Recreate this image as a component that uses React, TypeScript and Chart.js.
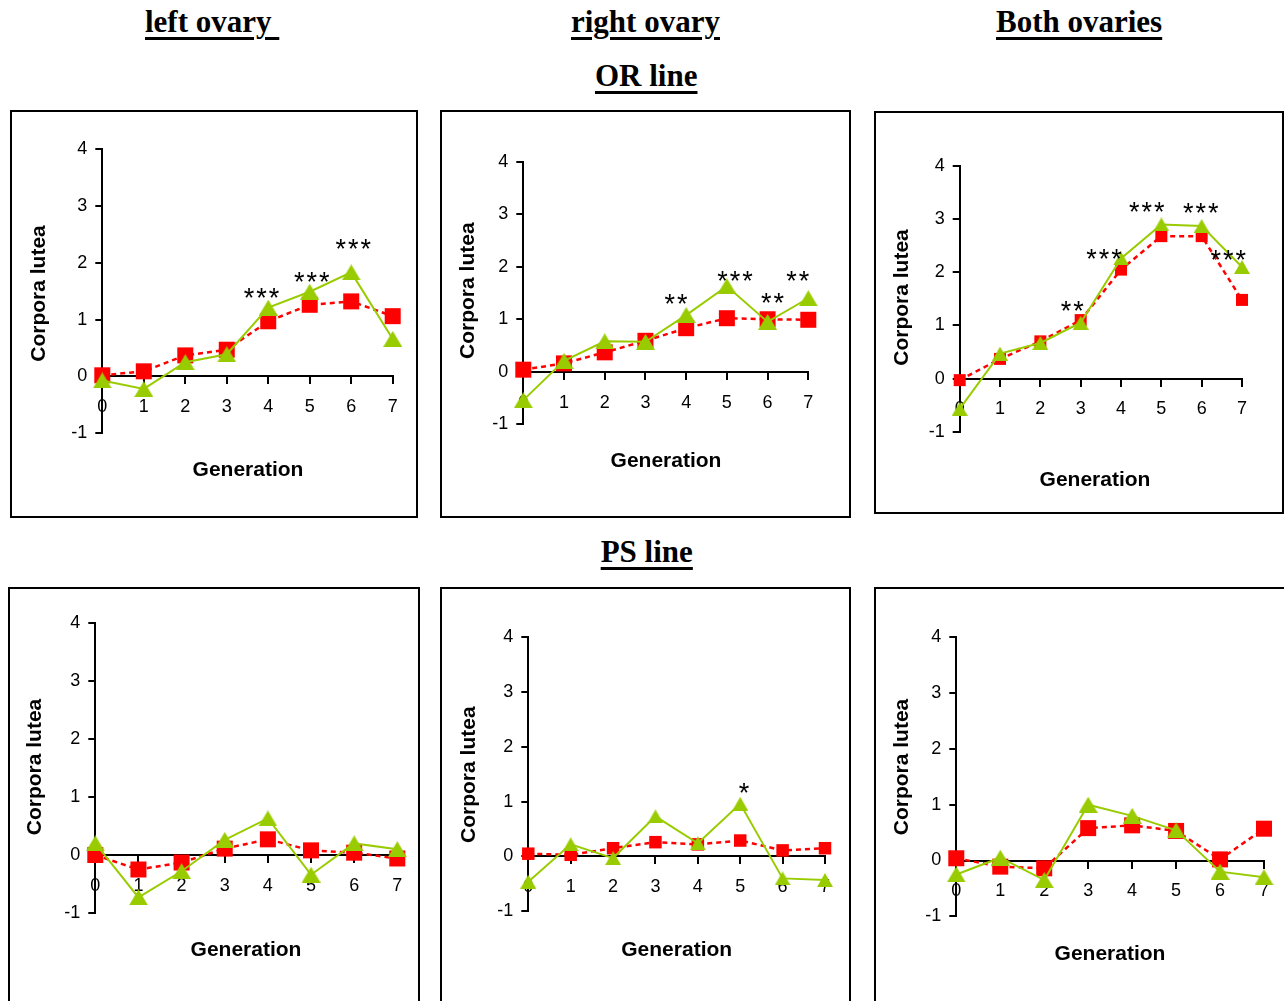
import React, { useEffect, useRef } from 'react';
import { Chart, registerables } from 'chart.js';

Chart.register(...registerables);

const FONT = 'Arial, "Liberation Sans", Helvetica, sans-serif';
const SERIF = '"Liberation Serif", "Times New Roman", Times, serif';
Chart.defaults.font.family = FONT;
Chart.defaults.color = '#000';

const RED = '#FF0000';
const GREEN = '#99CC00';
const BORDER = 2;
const Y_AXIS_BOX = 50;

// ---- axes ----
const generations = [0, 1, 2, 3, 4, 5, 6, 7];
const yAxisMin = -1;
const yAxisMax = 4;
const xAxisTitle = 'Generation';
const yAxisTitle = 'Corpora lutea';

// ---- headings ----
const columnHeadings = ['left ovary ', 'right ovary', 'Both ovaries'];
const rowHeadings = ['OR line', 'PS line'];

// ---- OR line : left ovary ----
const orLeftSquares = [0.02, 0.09, 0.37, 0.47, 0.97, 1.26, 1.32, 1.06];
const orLeftTriangles = [-0.07, -0.22, 0.25, 0.39, 1.21, 1.49, 1.83, 0.66];
const orLeftStars = [
  { gen: 3.84, y: 1.49, text: '***' },
  { gen: 5.05, y: 1.76, text: '***' },
  { gen: 6.05, y: 2.35, text: '***' },
];

// ---- OR line : right ovary ----
const orRightSquares = [0.04, 0.16, 0.37, 0.59, 0.83, 1.02, 1.0, 0.99];
const orRightTriangles = [-0.54, 0.21, 0.58, 0.57, 1.08, 1.63, 0.95, 1.4];
const orRightStars = [
  { gen: 3.75, y: 1.4, text: '**' },
  { gen: 5.2, y: 1.84, text: '***' },
  { gen: 6.12, y: 1.42, text: '**' },
  { gen: 6.74, y: 1.84, text: '**' },
];

// ---- OR line : both ovaries ----
const orBothSquares = [-0.03, 0.37, 0.7, 1.1, 2.05, 2.68, 2.68, 1.48];
const orBothTriangles = [-0.57, 0.47, 0.67, 1.05, 2.26, 2.9, 2.87, 2.1];
const orBothStars = [
  { gen: 2.79, y: 1.39, text: '**' },
  { gen: 3.58, y: 2.36, text: '***' },
  { gen: 4.64, y: 3.25, text: '***' },
  { gen: 5.98, y: 3.23, text: '***' },
  { gen: 6.66, y: 2.35, text: '***' },
];

// ---- PS line : left ovary ----
const psLeftSquares = [0.0, -0.25, -0.13, 0.11, 0.27, 0.08, 0.04, -0.06];
const psLeftTriangles = [0.2, -0.73, -0.28, 0.26, 0.63, -0.34, 0.2, 0.1];
const psLeftStars: Star[] = [];

// ---- PS line : right ovary ----
const psRightSquares = [0.05, 0.03, 0.15, 0.26, 0.22, 0.29, 0.11, 0.15];
const psRightTriangles = [-0.46, 0.22, -0.03, 0.73, 0.24, 0.96, -0.4, -0.43];
const psRightStars = [{ gen: 5.09, y: 1.26, text: '*' }];

// ---- PS line : both ovaries ----
const psBothSquares = [0.04, -0.11, -0.14, 0.58, 0.63, 0.53, 0.02, 0.57];
const psBothTriangles = [-0.25, 0.05, -0.35, 1.0, 0.8, 0.54, -0.2, -0.3];
const psBothStars: Star[] = [];

type Star = { gen: number; y: number; text: string };
type PanelSpec = {
  box: { left: number; top: number; width: number; height: number };
  plot: { x0: number; x7: number; yTop: number; yBottom: number };
  genTitle: [number, number];
  yTitle: [number, number];
  squares: number[];
  triangles: number[];
  stars: Star[];
  squareSide: number;
  tri: [number, number];
};

const panels: PanelSpec[] = [
  {
    box: { left: 10, top: 110, width: 408, height: 408 },
    plot: { x0: 102.3, x7: 392.7, yTop: 149, yBottom: 433.3 },
    genTitle: [248, 470], yTitle: [41, 293.5],
    squares: orLeftSquares, triangles: orLeftTriangles, stars: orLeftStars,
    squareSide: 16, tri: [19, 16],
  },
  {
    box: { left: 440, top: 110, width: 411, height: 408 },
    plot: { x0: 523.3, x7: 808.3, yTop: 161.7, yBottom: 424.3 },
    genTitle: [666, 461.7], yTitle: [470, 290.7],
    squares: orRightSquares, triangles: orRightTriangles, stars: orRightStars,
    squareSide: 16, tri: [19, 16],
  },
  {
    box: { left: 874, top: 111, width: 410, height: 403 },
    plot: { x0: 959.7, x7: 1242, yTop: 166, yBottom: 431.7 },
    genTitle: [1095, 480], yTitle: [904.7, 297.5],
    squares: orBothSquares, triangles: orBothTriangles, stars: orBothStars,
    squareSide: 12, tri: [16, 14],
  },
  {
    box: { left: 8, top: 587, width: 412, height: 420 },
    plot: { x0: 95.3, x7: 397.3, yTop: 623, yBottom: 913 },
    genTitle: [246, 950.7], yTitle: [37, 767],
    squares: psLeftSquares, triangles: psLeftTriangles, stars: psLeftStars,
    squareSide: 16, tri: [19, 16],
  },
  {
    box: { left: 440, top: 587, width: 411, height: 420 },
    plot: { x0: 528.3, x7: 825, yTop: 637, yBottom: 911.3 },
    genTitle: [676.7, 950.7], yTitle: [471, 774.7],
    squares: psRightSquares, triangles: psRightTriangles, stars: psRightStars,
    squareSide: 12.5, tri: [16, 14],
  },
  {
    box: { left: 874, top: 587, width: 420, height: 420 },
    plot: { x0: 956.3, x7: 1264, yTop: 637.3, yBottom: 916.3 },
    genTitle: [1110, 954], yTitle: [904, 767],
    squares: psBothSquares, triangles: psBothTriangles, stars: psBothStars,
    squareSide: 16, tri: [19, 16],
  },
];

function triangleImage(w: number, h: number, color: string) {
  const c = document.createElement('canvas');
  c.width = w;
  c.height = h;
  const g = c.getContext('2d')!;
  g.fillStyle = color;
  g.beginPath();
  g.moveTo(w / 2, 0);
  g.lineTo(w, h);
  g.lineTo(0, h);
  g.closePath();
  g.fill();
  return c;
}

function Panel({ spec }: { spec: PanelSpec }) {
  const ref = useRef<HTMLCanvasElement>(null);
  const cw = spec.box.width - 2 * BORDER;
  const ch = spec.box.height - 2 * BORDER;

  useEffect(() => {
    const canvas = ref.current;
    if (!canvas) return;
    const ox = spec.box.left + BORDER;
    const oy = spec.box.top + BORDER;
    const padding = {
      left: spec.plot.x0 - ox - Y_AXIS_BOX,
      right: ox + cw - spec.plot.x7,
      top: spec.plot.yTop - oy,
      bottom: oy + ch - spec.plot.yBottom,
    };
    const tri = triangleImage(spec.tri[0], spec.tri[1], GREEN);

    const textPlugin = {
      id: 'panelText',
      afterDraw(chart: any) {
        const ctx = chart.ctx as CanvasRenderingContext2D;
        const xs = chart.scales.x;
        const ys = chart.scales.y;
        ctx.save();
        ctx.fillStyle = '#000';
        ctx.font = `bold 21px ${FONT}`;
        ctx.textAlign = 'center';
        ctx.textBaseline = 'middle';
        ctx.fillText(xAxisTitle, spec.genTitle[0] - ox, spec.genTitle[1] - oy);
        ctx.save();
        ctx.translate(spec.yTitle[0] - ox - 2, spec.yTitle[1] - oy);
        ctx.rotate(-Math.PI / 2);
        ctx.fillText(yAxisTitle, 0, 0);
        ctx.restore();
        const fs = 27;
        ctx.font = `${fs}px ${FONT}`;
        ctx.textBaseline = 'alphabetic';
        (ctx as any).letterSpacing = '2px';
        for (const s of spec.stars) {
          ctx.fillText(s.text, xs.getPixelForValue(s.gen) + 1, ys.getPixelForValue(s.y) + 0.553 * fs);
        }
        ctx.restore();
      },
    };

    const axisGrid = {
      display: true,
      drawOnChartArea: false,
      drawTicks: true,
      tickLength: 7,
      color: '#000',
      lineWidth: 2,
    };

    const chart = new Chart(canvas, {
      type: 'line',
      data: {
        datasets: [
          {
            data: generations.map((g, i) => ({ x: g, y: spec.triangles[i] })),
            borderColor: GREEN,
            backgroundColor: GREEN,
            borderWidth: 2,
            pointStyle: tri as any,
            pointRadius: 8,
            pointHoverRadius: 8,
            tension: 0,
            fill: false,
            clip: false as any,
          },
          {
            data: generations.map((g, i) => ({ x: g, y: spec.squares[i] })),
            borderColor: RED,
            backgroundColor: RED,
            pointBackgroundColor: RED,
            borderWidth: 2.5,
            borderDash: [5, 4],
            pointStyle: 'rect',
            pointRadius: spec.squareSide / Math.SQRT2,
            pointHoverRadius: spec.squareSide / Math.SQRT2,
            pointBorderWidth: 0,
            tension: 0,
            fill: false,
            clip: false as any,
          },
        ],
      },
      options: {
        responsive: false,
        animation: false,
        devicePixelRatio: 1,
        events: [],
        layout: { padding },
        plugins: {
          legend: { display: false },
          tooltip: { enabled: false },
          title: { display: false },
        },
        scales: {
          x: {
            type: 'linear',
            min: generations[0],
            max: generations[generations.length - 1],
            position: { y: 0 } as any,
            grid: axisGrid,
            border: { display: true, color: '#000', width: 2 },
            ticks: {
              stepSize: 1,
              autoSkip: false,
              maxRotation: 0,
              padding: 13,
              color: '#000',
              font: { size: 18, family: FONT },
            },
          },
          y: {
            type: 'linear',
            min: yAxisMin,
            max: yAxisMax,
            position: 'left',
            grid: axisGrid,
            border: { display: true, color: '#000', width: 2 },
            ticks: {
              stepSize: 1,
              padding: 8,
              color: '#000',
              font: { size: 18, family: FONT },
            },
            afterFit: (s: any) => {
              s.width = Y_AXIS_BOX;
            },
          },
        },
      } as any,
      plugins: [textPlugin],
    });
    return () => chart.destroy();
  }, [spec]);

  return (
    <div
      style={{
        position: 'absolute',
        left: spec.box.left,
        top: spec.box.top,
        width: spec.box.width,
        height: spec.box.height,
        border: `${BORDER}px solid #000`,
        boxSizing: 'border-box',
        background: '#fff',
      }}
    >
      <canvas ref={ref} width={cw} height={ch} style={{ display: 'block', width: cw, height: ch }} />
    </div>
  );
}

const headingStyle: React.CSSProperties = {
  position: 'absolute',
  fontFamily: SERIF,
  fontWeight: 'bold',
  fontSize: 31,
  lineHeight: '31px',
  textDecoration: 'underline',
  textDecorationThickness: '3px',
  textUnderlineOffset: '5px',
  whiteSpace: 'pre',
  color: '#000',
};

const headingPlacement = [
  { text: columnHeadings[0], left: 145, top: 5.7 },
  { text: columnHeadings[1], left: 571, top: 5.7 },
  { text: columnHeadings[2], left: 996, top: 5.7 },
  { text: rowHeadings[0], left: 595, top: 59.7 },
  { text: rowHeadings[1], left: 600.7, top: 535.7 },
];

export default function App() {
  return (
    <div
      style={{
        position: 'absolute',
        left: 0,
        top: 0,
        width: 1284,
        height: 1001,
        overflow: 'hidden',
        background: '#fff',
      }}
    >
      {headingPlacement.map((h) => (
        <span key={h.text} style={{ ...headingStyle, left: h.left, top: h.top }}>
          {h.text}
        </span>
      ))}
      {panels.map((p, i) => (
        <Panel key={i} spec={p} />
      ))}
    </div>
  );
}
